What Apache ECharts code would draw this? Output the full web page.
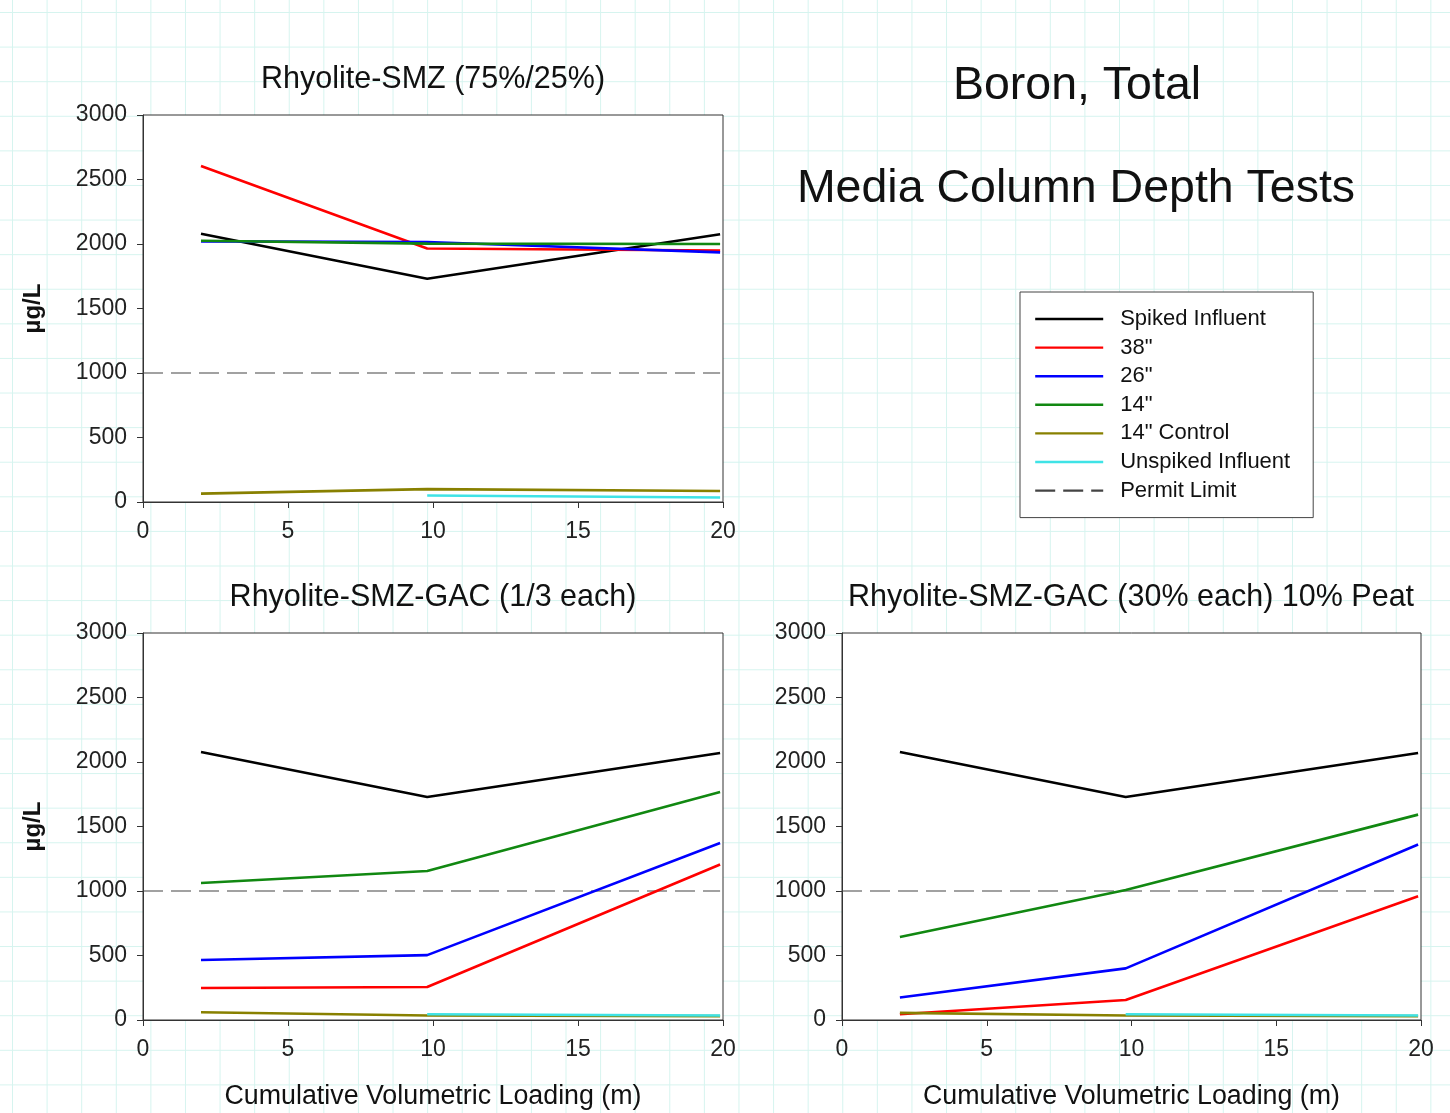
<!DOCTYPE html>
<html>
<head>
<meta charset="utf-8">
<script src="https://cdn.jsdelivr.net/npm/echarts@6/dist/echarts.min.js"></script>
<style>
html,body{margin:0;padding:0;background:#fff;}
#chart{width:1450px;height:1113px;
background-color:#fff;
background-image:linear-gradient(to right,#d6f4ef 1px,transparent 1px),linear-gradient(to bottom,#d6f4ef 1px,transparent 1px);
background-size:34.6px 34.6px;background-position:12px 12px;}
</style>
</head>
<body>
<div id="chart"></div>
<script>
// ---- data ----
const xLoad = [2, 9.8, 19.9];
const xUnspiked = [9.8, 19.9];
const permitX = [0, 19.9];
const permitLimit = 1000;

const seriesNames = ['Spiked Influent', '38"', '26"', '14"', '14" Control', 'Unspiked Influent', 'Permit Limit'];
const panelTitles = ['Rhyolite-SMZ (75%/25%)', 'Rhyolite-SMZ-GAC (1/3 each)', 'Rhyolite-SMZ-GAC (30% each) 10% Peat'];
const xTicks = [0, 5, 10, 15, 20];
const yTicks = [0, 500, 1000, 1500, 2000, 2500, 3000];

// Panel A: Rhyolite-SMZ (75%/25%)
const spikedA = [2080, 1730, 2075];
const in38A = [2605, 1965, 1950];
const in26A = [2020, 2015, 1935];
const in14A = [2025, 2003, 2000];
const controlA = [65, 100, 85];
const unspikedA = [50, 35];

// Panel B: Rhyolite-SMZ-GAC (1/3 each)
const spikedB = [2078, 1728, 2070];
const in38B = [248, 256, 1205];
const in26B = [465, 503, 1372];
const in14B = [1062, 1155, 1767];
const controlB = [60, 35, 30];
const unspikedB = [45, 35];

// Panel C: Rhyolite-SMZ-GAC (30% each) 10% Peat
const spikedC = [2078, 1728, 2070];
const in38C = [45, 155, 960];
const in26C = [175, 400, 1360];
const in14C = [643, 1008, 1592];
const controlC = [55, 35, 30];
const unspikedC = [45, 35];

// ---- build ----
const colors = ['#000000', '#ff0000', '#0000ff', '#118811', '#888000', '#3fe3e6'];
const FONT = '"Liberation Sans", Arial, sans-serif';
const pair = (xs, ys) => xs.map((x, i) => [x, ys[i]]);

const panels = [
  [spikedA, in38A, in26A, in14A, controlA, unspikedA],
  [spikedB, in38B, in26B, in14B, controlB, unspikedB],
  [spikedC, in38C, in26C, in14C, controlC, unspikedC]
];

const grids = [
  {left: 143, top: 115, width: 580, height: 387},
  {left: 143, top: 633, width: 580, height: 387},
  {left: 842, top: 633, width: 579, height: 387}
].map(g => Object.assign(g, {show: true, backgroundColor: '#ffffff', borderColor: '#333', borderWidth: 1}));

const axisLabelStyle = {color: '#222', fontSize: 23, fontFamily: FONT, formatter: v => String(v)};
const xAxes = grids.map((g, i) => ({
  type: 'value', gridIndex: i, min: xTicks[0], max: xTicks[xTicks.length - 1], interval: xTicks[1] - xTicks[0],
  axisLine: {show: true, lineStyle: {color: '#333', width: 1}},
  axisTick: {show: true, length: 6, lineStyle: {color: '#333'}},
  splitLine: {show: false},
  axisLabel: Object.assign({margin: 18}, axisLabelStyle),
  name: i > 0 ? 'Cumulative Volumetric Loading (m)' : '',
  nameLocation: 'middle', nameGap: 63,
  nameTextStyle: {color: '#111', fontSize: 26.8, fontFamily: FONT}
}));
const yAxes = grids.map((g, i) => ({
  type: 'value', gridIndex: i, min: yTicks[0], max: yTicks[yTicks.length - 1], interval: yTicks[1] - yTicks[0],
  axisLine: {show: true, lineStyle: {color: '#333', width: 1}},
  axisTick: {show: true, length: 6, lineStyle: {color: '#333'}},
  splitLine: {show: false},
  axisLabel: Object.assign({margin: 16}, axisLabelStyle),
  name: i < 2 ? 'µg/L' : '',
  nameLocation: 'middle', nameGap: 98,
  nameTextStyle: {color: '#111', fontSize: 24, fontWeight: 'bold', fontFamily: FONT}
}));

const series = [];
panels.forEach((p, gi) => {
  series.push({
    name: 'Permit Limit', type: 'line', xAxisIndex: gi, yAxisIndex: gi,
    data: permitX.map(x => [x, permitLimit]), symbol: 'none', silent: true,
    lineStyle: {color: '#444', width: 1.2, type: [20, 8]}, itemStyle: {color: '#444'}, z: 1
  });
  p.forEach((ys, si) => {
    const xs = si === 5 ? xUnspiked : xLoad;
    series.push({
      name: seriesNames[si], type: 'line', xAxisIndex: gi, yAxisIndex: gi,
      data: pair(xs, ys), symbol: 'none', silent: true,
      lineStyle: {color: colors[si], width: 2.6}, itemStyle: {color: colors[si]}, z: 2 + si
    });
  });
});

const option = {
  animation: false,
  backgroundColor: 'transparent',
  grid: grids, xAxis: xAxes, yAxis: yAxes, series: series,
  legend: {
    data: seriesNames, orient: 'vertical', left: 1020, top: 292,
    padding: [15, 23, 15, 14], itemGap: 4.6, itemWidth: 68, itemHeight: 14,
    backgroundColor: '#ffffff', borderColor: '#444', borderWidth: 1, borderRadius: 0,
    selectedMode: false,
    itemStyle: {opacity: 0},
    textStyle: {color: '#111', fontSize: 22, fontFamily: FONT, lineHeight: 24, padding: [0, 0, 0, 12]},
    lineStyle: {width: 2.4}
  },
  graphic: [
    {type: 'text', x: 433, y: 80, style: {text: panelTitles[0], font: '30.5px ' + FONT, fill: '#111', textAlign: 'center', textVerticalAlign: 'middle'}},
    {type: 'text', x: 433, y: 598, style: {text: panelTitles[1], font: '30.5px ' + FONT, fill: '#111', textAlign: 'center', textVerticalAlign: 'middle'}},
    {type: 'text', x: 1131, y: 598, style: {text: panelTitles[2], font: '30.5px ' + FONT, fill: '#111', textAlign: 'center', textVerticalAlign: 'middle'}},
    {type: 'text', x: 1077, y: 86, style: {text: 'Boron, Total', font: '46.5px ' + FONT, fill: '#111', textAlign: 'center', textVerticalAlign: 'middle'}},
    {type: 'text', x: 1076, y: 189, style: {text: 'Media Column Depth Tests', font: '46.5px ' + FONT, fill: '#111', textAlign: 'center', textVerticalAlign: 'middle'}}
  ]
};

const chart = echarts.init(document.getElementById('chart'), null, {renderer: 'canvas'});
chart.setOption(option);
</script>
</body>
</html>
